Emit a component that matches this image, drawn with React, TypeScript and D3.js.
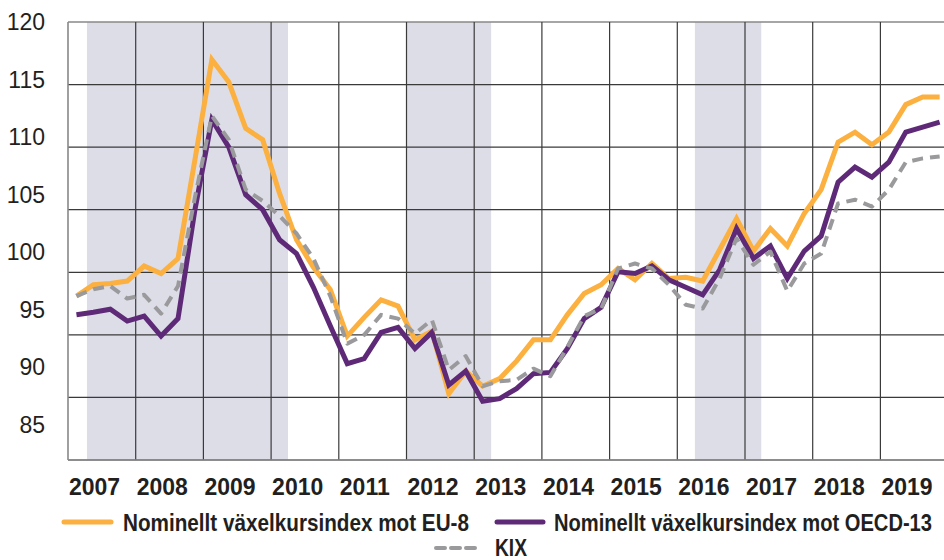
import React from "react";
import * as d3 from "d3";

// Quarterly data 2007Q1–2019Q4
const startYear = 2007;
const eu8 = [
  98.1, 99.0, 99.1, 99.3, 100.5, 99.9, 101.1, 109.0, 117.0, 115.2, 111.5, 110.6,
  106.3, 102.6, 100.4, 98.6, 94.9, 96.4, 97.8, 97.3, 94.6, 95.3, 90.3, 92.1,
  90.9, 91.5, 92.9, 94.6, 94.6, 96.6, 98.3, 99.0, 100.3, 99.4, 100.7, 99.5,
  99.6, 99.3, 101.8, 104.3, 101.7, 103.5, 102.1, 104.7, 106.6, 110.4, 111.2, 110.2,
  111.2, 113.4, 114.0, 114.0,
];
const oecd13 = [
  96.6, 96.8, 97.05, 96.1, 96.5, 94.9, 96.3, 105.0, 112.2, 110.0, 106.2, 105.0,
  102.6, 101.5, 98.8, 95.7, 92.7, 93.1, 95.2, 95.6, 93.9, 95.2, 91.0, 92.1,
  89.7, 89.9, 90.7, 91.9, 92.0, 93.9, 96.3, 97.2, 100.05, 99.9, 100.5, 99.4,
  98.8, 98.2, 100.2, 103.5, 101.1, 102.1, 99.5, 101.7, 102.9, 107.2, 108.4, 107.6,
  108.8, 111.2, 111.6, 112.0,
];
const kix = [
  98.1, 98.65, 98.9, 97.9, 98.2, 96.7, 98.9, 106.0, 112.5, 110.6, 106.6, 105.7,
  104.5, 103.1, 101.1, 98.1, 94.3, 95.0, 96.6, 96.3, 95.1, 96.2, 92.2, 93.3,
  90.9, 91.3, 91.4, 92.3, 91.7, 94.0, 96.5, 97.1, 100.3, 100.7, 100.3, 99.0,
  97.4, 97.1, 99.5, 102.7, 100.6, 101.65, 98.5, 100.7, 101.5, 105.5, 105.8, 105.25,
  106.6, 108.8, 109.1, 109.25,
];
const years = [2007, 2008, 2009, 2010, 2011, 2012, 2013, 2014, 2015, 2016, 2017, 2018, 2019];
const yTicks = [85, 90, 95, 100, 105, 110, 115, 120];
const bands: [number, number][] = [
  [2007.28, 2010.25],
  [2012.0, 2013.25],
  [2016.26, 2017.24],
];
const legendEU = "Nominellt växelkursindex mot EU-8";
const legendOECD = "Nominellt växelkursindex mot OECD-13";
const legendKIX = "KIX";

const W = 944;
const H = 560;
const left = 68;
const top = 22;
const bottom = 460;
const yearW = 67.7;

const ORANGE = "#fbb03f";
const PURPLE = "#5e2a78";
const GRAY = "#9a9a9c";
const GRID = "#3a3a3a";
const TEXT = "#231f20";
const FONT = "'Liberation Sans Narrow', 'Arial Narrow', 'Liberation Sans', Arial, sans-serif";

export default function App() {
  const x = d3.scaleLinear().domain([2007, 2020]).range([left, left + 13 * yearW]);
  const y = d3.scaleLinear().domain([85, 120]).range([bottom, top]);
  const yLab = d3.scaleLinear().domain([85, 120]).range([425, 22]);

  const tq = (i: number) => startYear + (i + 0.5) / 4;
  const line = d3
    .line<number>()
    .x((_, i) => x(tq(i)))
    .y((d) => y(d));

  return (
    <div style={{ position: "absolute", left: 0, top: 0 }}>
      <svg width={W} height={H} style={{ display: "block" }}>
        <rect x={0} y={0} width={W} height={H} fill="#fff" />
        {bands.map(([a, b], i) => (
          <rect key={i} x={x(a)} y={top} width={x(b) - x(a)} height={bottom - top} fill="#dddde8" />
        ))}
        {/* horizontal grid */}
        {yTicks.map((t) => (
          <line key={t} x1={left} x2={W} y1={y(t)} y2={y(t)} stroke={t === 120 ? "#888" : GRID} strokeWidth={t === 120 ? 1.6 : 1.2} />
        ))}
        {/* vertical grid */}
        {years.map((yr) => (
          <line key={yr} x1={x(yr)} x2={x(yr)} y1={top} y2={bottom} stroke={yr === 2007 ? "#888" : GRID} strokeWidth={yr === 2007 ? 1.6 : 1.2} />
        ))}
        <line x1={left} x2={W} y1={bottom} y2={bottom} stroke="#888" strokeWidth={1.6} />
        {/* series */}
        <path d={line(eu8) || ""} fill="none" stroke={ORANGE} strokeWidth={5} strokeLinejoin="miter" />
        <path d={line(oecd13) || ""} fill="none" stroke={PURPLE} strokeWidth={5} strokeLinejoin="miter" />
        <path d={line(kix) || ""} fill="none" stroke={GRAY} strokeWidth={4} strokeDasharray="11 7" strokeLinejoin="round" />
        {/* y labels */}
        {yTicks.map((t) => (
          <text key={t} x={45} y={yLab(t)} dy="0.35em" textAnchor="end" fontFamily="'Liberation Sans', Arial, sans-serif" fontSize={23} fill={TEXT}>
            {t}
          </text>
        ))}
        {/* x labels */}
        {years.map((yr) => (
          <text key={yr} x={x(yr) + 1} y={495} textAnchor="start" fontFamily="'Liberation Sans', Arial, sans-serif" fontWeight="bold" fontSize={23} fill={TEXT}>
            {yr}
          </text>
        ))}
        {/* legend */}
        <line x1={64} x2={111} y1={522} y2={522} stroke={ORANGE} strokeWidth={5} strokeLinecap="round" />
        <text x={123} y={531} fontFamily={FONT} fontWeight="bold" fontSize={24} fill={TEXT} textLength={346} lengthAdjust="spacingAndGlyphs">
          {legendEU}
        </text>
        <line x1={497} x2={543} y1={522} y2={522} stroke={PURPLE} strokeWidth={5} strokeLinecap="round" />
        <text x={554} y={531} fontFamily={FONT} fontWeight="bold" fontSize={24} fill={TEXT} textLength={378} lengthAdjust="spacingAndGlyphs">
          {legendOECD}
        </text>
        <line x1={436} x2={481} y1={548} y2={548} stroke={GRAY} strokeWidth={4} strokeDasharray="9 6" strokeLinecap="round" />
        <text x={495} y={556} fontFamily={FONT} fontWeight="bold" fontSize={23} fill={TEXT} textLength={32} lengthAdjust="spacingAndGlyphs">
          {legendKIX}
        </text>
      </svg>
    </div>
  );
}
